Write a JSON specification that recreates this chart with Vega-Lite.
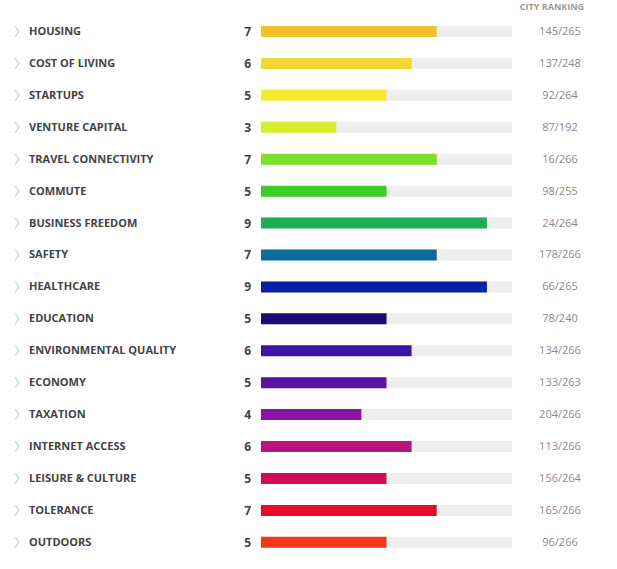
{
  "$schema": "https://vega.github.io/schema/vega-lite/v6.json",
  "width": 617,
  "height": 569,
  "padding": 0,
  "autosize": "none",
  "background": "#ffffff",
  "config": {"view": {"stroke": null}, "font": "Open Sans"},
  "title": {"text": "CITY RANKING", "orient": "top", "anchor": "end", "frame": "group", "fontSize": 9, "fontWeight": "bold", "color": "#9a9a9a", "font": "Open Sans", "baseline": "alphabetic", "offset": 0, "dy": 19, "dx": -33},
  "data": {"values": [
    {"name": "HOUSING", "score": 7, "rank": "145/265"},
    {"name": "COST OF LIVING", "score": 6, "rank": "137/248"},
    {"name": "STARTUPS", "score": 5, "rank": "92/264"},
    {"name": "VENTURE CAPITAL", "score": 3, "rank": "87/192"},
    {"name": "TRAVEL CONNECTIVITY", "score": 7, "rank": "16/266"},
    {"name": "COMMUTE", "score": 5, "rank": "98/255"},
    {"name": "BUSINESS FREEDOM", "score": 9, "rank": "24/264"},
    {"name": "SAFETY", "score": 7, "rank": "178/266"},
    {"name": "HEALTHCARE", "score": 9, "rank": "66/265"},
    {"name": "EDUCATION", "score": 5, "rank": "78/240"},
    {"name": "ENVIRONMENTAL QUALITY", "score": 6, "rank": "134/266"},
    {"name": "ECONOMY", "score": 5, "rank": "133/263"},
    {"name": "TAXATION", "score": 4, "rank": "204/266"},
    {"name": "INTERNET ACCESS", "score": 6, "rank": "113/266"},
    {"name": "LEISURE & CULTURE", "score": 5, "rank": "156/264"},
    {"name": "TOLERANCE", "score": 7, "rank": "165/266"},
    {"name": "OUTDOORS", "score": 5, "rank": "96/266"}
  ]},
  "encoding": {
    "y": {"field": "name", "type": "nominal", "sort": null, "axis": null,
          "scale": {"type": "point", "range": [31.5, 542.3], "padding": 0}}
  },
  "layer": [
    {
      "mark": {"type": "point", "shape": "M-0.35,-1L0.35,0L-0.35,1", "filled": false, "stroke": "#c0c0c0", "strokeWidth": 1.3, "size": 110},
      "encoding": {"x": {"datum": -9.72, "type": "quantitative", "scale": {"domain": [-10.398, 14.183], "range": [0, 617], "zero": false, "nice": false}, "axis": null}}
    },
    {
      "mark": {"type": "text", "align": "left", "baseline": "middle", "dy": 0.5, "fontSize": 11, "fontWeight": "bold", "color": "#434343", "font": "Open Sans"},
      "encoding": {"x": {"datum": -9.243, "type": "quantitative"}, "text": {"field": "name"}}
    },
    {
      "mark": {"type": "text", "align": "right", "baseline": "middle", "dy": 0.5, "fontSize": 12, "fontWeight": "bold", "color": "#434343", "font": "Open Sans"},
      "encoding": {"x": {"datum": -0.398, "type": "quantitative"}, "text": {"field": "score"}}
    },
    {
      "mark": {"type": "bar", "color": "#eeeeee", "size": 11},
      "encoding": {"x": {"datum": 0, "type": "quantitative"}, "x2": {"datum": 10}}
    },
    {
      "mark": {"type": "bar", "size": 11},
      "encoding": {
        "x": {"field": "score", "type": "quantitative"},
        "x2": {"datum": 0},
        "color": {"field": "name", "type": "nominal", "legend": null,
          "scale": {
            "domain": ["HOUSING", "COST OF LIVING", "STARTUPS", "VENTURE CAPITAL", "TRAVEL CONNECTIVITY", "COMMUTE", "BUSINESS FREEDOM", "SAFETY", "HEALTHCARE", "EDUCATION", "ENVIRONMENTAL QUALITY", "ECONOMY", "TAXATION", "INTERNET ACCESS", "LEISURE & CULTURE", "TOLERANCE", "OUTDOORS"],
            "range": ["#f2c12e", "#f4d732", "#f4ea31", "#d6ee30", "#7ddf2b", "#3ccd2b", "#1cb055", "#0e6b9a", "#0821a3", "#180c73", "#3c14a6", "#5914a3", "#8a15a3", "#b8137f", "#d10d55", "#e80c28", "#f4371d"]
          }}
      }
    },
    {
      "mark": {"type": "text", "align": "center", "baseline": "middle", "dy": 0.5, "fontSize": 11, "color": "#8a8a8a", "font": "Open Sans"},
      "encoding": {"x": {"datum": 11.912, "type": "quantitative"}, "text": {"field": "rank"}}
    }
  ]
}
